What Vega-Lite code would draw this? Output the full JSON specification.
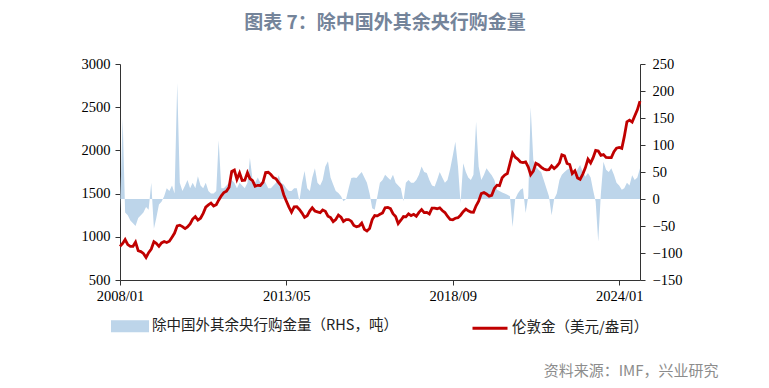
{
  "$schema": "https://vega.github.io/schema/vega-lite/v6.json",
  "autosize": "none",
  "width": 520,
  "height": 216,
  "padding": {"left": 120, "top": 64, "right": 129, "bottom": 108},
  "background": "white",
  "title": {"text": "图表 7：除中国外其余央行购金量", "font": "Noto Sans CJK SC", "fontSize": 19, "fontWeight": "bold", "color": "#74849a", "anchor": "middle", "offset": 23, "dx": 5},
  "config": {
    "view": {"stroke": null},
    "axis": {"grid": false, "domainColor": "#333", "tickColor": "#333", "labelFont": "Liberation Serif", "labelFontSize": 14.5, "labelColor": "#000", "tickSize": 5, "domainWidth": 1, "tickWidth": 1},
    "legend": {
      "orient": "none", "legendX": -9, "legendY": 243, "direction": "horizontal",
      "labelFont": "Noto Sans CJK SC", "labelFontSize": 14.5, "labelColor": "#222", "labelLimit": 400,
      "symbolSize": 1225, "labelOffset": 3, "columnPadding": 68, "symbolStrokeWidth": 3
    }
  },
  "data": {"values": [
{"date":"2008-01-01","cb":-20,"gold":889},{"date":"2008-02-01","cb":150,"gold":923},{"date":"2008-03-01","cb":-25,"gold":968},{"date":"2008-04-01","cb":-30,"gold":909},{"date":"2008-05-01","cb":-40,"gold":889},{"date":"2008-06-01","cb":-45,"gold":890},{"date":"2008-07-01","cb":-50,"gold":939},{"date":"2008-08-01","cb":-35,"gold":839},{"date":"2008-09-01","cb":-30,"gold":829},{"date":"2008-10-01","cb":-25,"gold":807},{"date":"2008-11-01","cb":-15,"gold":761},{"date":"2008-12-01","cb":-20,"gold":816},
{"date":"2009-01-01","cb":30,"gold":858},{"date":"2009-02-01","cb":-55,"gold":943},{"date":"2009-03-01","cb":-35,"gold":925},{"date":"2009-04-01","cb":-10,"gold":890},{"date":"2009-05-01","cb":-5,"gold":929},{"date":"2009-06-01","cb":5,"gold":946},{"date":"2009-07-01","cb":20,"gold":934},{"date":"2009-08-01","cb":15,"gold":949},{"date":"2009-09-01","cb":25,"gold":996},{"date":"2009-10-01","cb":10,"gold":1043},{"date":"2009-11-01","cb":215,"gold":1127},{"date":"2009-12-01","cb":30,"gold":1135},
{"date":"2010-01-01","cb":15,"gold":1118},{"date":"2010-02-01","cb":25,"gold":1095},{"date":"2010-03-01","cb":35,"gold":1114},{"date":"2010-04-01","cb":20,"gold":1149},{"date":"2010-05-01","cb":30,"gold":1205},{"date":"2010-06-01","cb":20,"gold":1233},{"date":"2010-07-01","cb":42,"gold":1193},{"date":"2010-08-01","cb":25,"gold":1215},{"date":"2010-09-01","cb":20,"gold":1271},{"date":"2010-10-01","cb":30,"gold":1343},{"date":"2010-11-01","cb":15,"gold":1370},{"date":"2010-12-01","cb":10,"gold":1391},
{"date":"2011-01-01","cb":10,"gold":1356},{"date":"2011-02-01","cb":15,"gold":1372},{"date":"2011-03-01","cb":109,"gold":1424},{"date":"2011-04-01","cb":20,"gold":1474},{"date":"2011-05-01","cb":20,"gold":1511},{"date":"2011-06-01","cb":25,"gold":1529},{"date":"2011-07-01","cb":30,"gold":1573},{"date":"2011-08-01","cb":35,"gold":1756},{"date":"2011-09-01","cb":30,"gold":1772},{"date":"2011-10-01","cb":20,"gold":1665},{"date":"2011-11-01","cb":30,"gold":1739},{"date":"2011-12-01","cb":25,"gold":1652},
{"date":"2012-01-01","cb":20,"gold":1656},{"date":"2012-02-01","cb":30,"gold":1743},{"date":"2012-03-01","cb":76,"gold":1674},{"date":"2012-04-01","cb":35,"gold":1651},{"date":"2012-05-01","cb":30,"gold":1585},{"date":"2012-06-01","cb":40,"gold":1596},{"date":"2012-07-01","cb":30,"gold":1594},{"date":"2012-08-01","cb":35,"gold":1630},{"date":"2012-09-01","cb":30,"gold":1744},{"date":"2012-10-01","cb":20,"gold":1747},{"date":"2012-11-01","cb":20,"gold":1721},{"date":"2012-12-01","cb":25,"gold":1685},
{"date":"2013-01-01","cb":30,"gold":1671},{"date":"2013-02-01","cb":44,"gold":1627},{"date":"2013-03-01","cb":30,"gold":1593},{"date":"2013-04-01","cb":27,"gold":1487},{"date":"2013-05-01","cb":20,"gold":1414},{"date":"2013-06-01","cb":15,"gold":1343},{"date":"2013-07-01","cb":15,"gold":1286},{"date":"2013-08-01","cb":20,"gold":1347},{"date":"2013-09-01","cb":20,"gold":1348},{"date":"2013-10-01","cb":-4,"gold":1316},{"date":"2013-11-01","cb":30,"gold":1275},{"date":"2013-12-01","cb":52,"gold":1225},
{"date":"2014-01-01","cb":20,"gold":1244},{"date":"2014-02-01","cb":15,"gold":1300},{"date":"2014-03-01","cb":40,"gold":1336},{"date":"2014-04-01","cb":57,"gold":1299},{"date":"2014-05-01","cb":30,"gold":1288},{"date":"2014-06-01","cb":25,"gold":1279},{"date":"2014-07-01","cb":35,"gold":1311},{"date":"2014-08-01","cb":60,"gold":1296},{"date":"2014-09-01","cb":70,"gold":1239},{"date":"2014-10-01","cb":40,"gold":1222},{"date":"2014-11-01","cb":27,"gold":1176},{"date":"2014-12-01","cb":15,"gold":1200},
{"date":"2015-01-01","cb":11,"gold":1251},{"date":"2015-02-01","cb":5,"gold":1227},{"date":"2015-03-01","cb":-4,"gold":1178},{"date":"2015-04-01","cb":0,"gold":1198},{"date":"2015-05-01","cb":20,"gold":1199},{"date":"2015-06-01","cb":39,"gold":1181},{"date":"2015-07-01","cb":40,"gold":1131},{"date":"2015-08-01","cb":39,"gold":1117},{"date":"2015-09-01","cb":45,"gold":1125},{"date":"2015-10-01","cb":50,"gold":1159},{"date":"2015-11-01","cb":40,"gold":1086},{"date":"2015-12-01","cb":30,"gold":1068},
{"date":"2016-01-01","cb":10,"gold":1097},{"date":"2016-02-01","cb":-17,"gold":1200},{"date":"2016-03-01","cb":-20,"gold":1246},{"date":"2016-04-01","cb":5,"gold":1242},{"date":"2016-05-01","cb":30,"gold":1260},{"date":"2016-06-01","cb":35,"gold":1276},{"date":"2016-07-01","cb":45,"gold":1337},{"date":"2016-08-01","cb":40,"gold":1341},{"date":"2016-09-01","cb":35,"gold":1326},{"date":"2016-10-01","cb":45,"gold":1267},{"date":"2016-11-01","cb":30,"gold":1236},{"date":"2016-12-01","cb":25,"gold":1152},
{"date":"2017-01-01","cb":20,"gold":1192},{"date":"2017-02-01","cb":-4,"gold":1234},{"date":"2017-03-01","cb":30,"gold":1231},{"date":"2017-04-01","cb":35,"gold":1266},{"date":"2017-05-01","cb":30,"gold":1246},{"date":"2017-06-01","cb":30,"gold":1260},{"date":"2017-07-01","cb":35,"gold":1237},{"date":"2017-08-01","cb":45,"gold":1283},{"date":"2017-09-01","cb":60,"gold":1315},{"date":"2017-10-01","cb":50,"gold":1280},{"date":"2017-11-01","cb":48,"gold":1283},{"date":"2017-12-01","cb":35,"gold":1265},
{"date":"2018-01-01","cb":25,"gold":1331},{"date":"2018-02-01","cb":23,"gold":1331},{"date":"2018-03-01","cb":35,"gold":1325},{"date":"2018-04-01","cb":50,"gold":1335},{"date":"2018-05-01","cb":40,"gold":1304},{"date":"2018-06-01","cb":30,"gold":1281},{"date":"2018-07-01","cb":35,"gold":1238},{"date":"2018-08-01","cb":55,"gold":1202},{"date":"2018-09-01","cb":80,"gold":1198},{"date":"2018-10-01","cb":106,"gold":1215},{"date":"2018-11-01","cb":60,"gold":1221},{"date":"2018-12-01","cb":-8,"gold":1250},
{"date":"2019-01-01","cb":66,"gold":1291},{"date":"2019-02-01","cb":50,"gold":1320},{"date":"2019-03-01","cb":40,"gold":1301},{"date":"2019-04-01","cb":35,"gold":1286},{"date":"2019-05-01","cb":45,"gold":1284},{"date":"2019-06-01","cb":143,"gold":1359},{"date":"2019-07-01","cb":60,"gold":1413},{"date":"2019-08-01","cb":35,"gold":1500},{"date":"2019-09-01","cb":45,"gold":1511},{"date":"2019-10-01","cb":57,"gold":1495},{"date":"2019-11-01","cb":50,"gold":1471},{"date":"2019-12-01","cb":44,"gold":1480},
{"date":"2020-01-01","cb":35,"gold":1560},{"date":"2020-02-01","cb":17,"gold":1597},{"date":"2020-03-01","cb":15,"gold":1591},{"date":"2020-04-01","cb":12,"gold":1683},{"date":"2020-05-01","cb":10,"gold":1715},{"date":"2020-06-01","cb":8,"gold":1732},{"date":"2020-07-01","cb":5,"gold":1846},{"date":"2020-08-01","cb":-52,"gold":1968},{"date":"2020-09-01","cb":0,"gold":1921},{"date":"2020-10-01","cb":10,"gold":1900},{"date":"2020-11-01","cb":17,"gold":1866},{"date":"2020-12-01","cb":20,"gold":1858},
{"date":"2021-01-01","cb":-26,"gold":1867},{"date":"2021-02-01","cb":5,"gold":1808},{"date":"2021-03-01","cb":170,"gold":1718},{"date":"2021-04-01","cb":72,"gold":1760},{"date":"2021-05-01","cb":60,"gold":1850},{"date":"2021-06-01","cb":54,"gold":1834},{"date":"2021-07-01","cb":50,"gold":1807},{"date":"2021-08-01","cb":35,"gold":1785},{"date":"2021-09-01","cb":20,"gold":1775},{"date":"2021-10-01","cb":5,"gold":1777},{"date":"2021-11-01","cb":-30,"gold":1821},{"date":"2021-12-01","cb":0,"gold":1790},
{"date":"2022-01-01","cb":10,"gold":1817},{"date":"2022-02-01","cb":35,"gold":1856},{"date":"2022-03-01","cb":45,"gold":1948},{"date":"2022-04-01","cb":50,"gold":1937},{"date":"2022-05-01","cb":54,"gold":1849},{"date":"2022-06-01","cb":57,"gold":1837},{"date":"2022-07-01","cb":50,"gold":1732},{"date":"2022-08-01","cb":45,"gold":1764},{"date":"2022-09-01","cb":55,"gold":1681},{"date":"2022-10-01","cb":63,"gold":1665},{"date":"2022-11-01","cb":50,"gold":1726},{"date":"2022-12-01","cb":41,"gold":1798},
{"date":"2023-01-01","cb":48,"gold":1898},{"date":"2023-02-01","cb":40,"gold":1855},{"date":"2023-03-01","cb":17,"gold":1913},{"date":"2023-04-01","cb":-5,"gold":1999},{"date":"2023-05-01","cb":-79,"gold":1992},{"date":"2023-06-01","cb":10,"gold":1943},{"date":"2023-07-01","cb":69,"gold":1951},{"date":"2023-08-01","cb":54,"gold":1918},{"date":"2023-09-01","cb":50,"gold":1916},{"date":"2023-10-01","cb":57,"gold":1916},{"date":"2023-11-01","cb":45,"gold":1985},{"date":"2023-12-01","cb":30,"gold":2026},
{"date":"2024-01-01","cb":25,"gold":2034},{"date":"2024-02-01","cb":17,"gold":2023},{"date":"2024-03-01","cb":20,"gold":2159},{"date":"2024-04-01","cb":30,"gold":2331},{"date":"2024-05-01","cb":25,"gold":2350},{"date":"2024-06-01","cb":44,"gold":2327},{"date":"2024-07-01","cb":35,"gold":2399},{"date":"2024-08-01","cb":40,"gold":2470},{"date":"2024-09-01","cb":57,"gold":2571}
  ]},
  "encoding": {
    "x": {
      "field": "date", "type": "temporal",
      "scale": {"type": "utc", "domain": [{"year": 2008, "month": 1, "date": 1, "utc": true}, {"year": 2024, "month": 9, "date": 1, "utc": true}]},
      "axis": {
        "values": [{"year": 2008, "month": 1, "date": 1, "utc": true}, {"year": 2013, "month": 5, "date": 1, "utc": true}, {"year": 2018, "month": 9, "date": 1, "utc": true}, {"year": 2024, "month": 1, "date": 1, "utc": true}],
        "format": "%Y/%m", "labelPadding": 4, "labelFlush": false, "labelOverlap": false,
        "title": "资料来源：IMF，兴业研究", "titleFont": "Noto Sans CJK SC", "titleFontSize": 15, "titleFontWeight": "normal", "titleColor": "#8c8c8c",
        "titleX": 598, "titleY": 90, "titleAlign": "right", "titleBaseline": "middle", "titleAnchor": null
      }
    }
  },
  "layer": [
    {
      "mark": {"type": "area", "opacity": 1},
      "encoding": {
        "y": {"field": "cb", "type": "quantitative", "scale": {"domain": [-150, 250], "nice": false, "zero": false},
              "axis": {"orient": "right", "values": [-150, -100, -50, 0, 50, 100, 150, 200, 250], "title": null, "labelPadding": 7}},
        "y2": {"datum": 0},
        "color": {
          "datum": "除中国外其余央行购金量（RHS，吨）", "type": "nominal",
          "scale": {"domain": ["除中国外其余央行购金量（RHS，吨）", "伦敦金（美元/盎司）"], "range": ["#bdd5ea", "#c00000"]},
          "legend": {
            "title": null,
            "encode": {"symbols": {"update": {
              "shape": {"signal": "datum.value == '伦敦金（美元/盎司）' ? 'M-1,0H1' : 'M-1,-0.26H1V0.26H-1Z'"},
              "fill": {"signal": "datum.value == '伦敦金（美元/盎司）' ? 'transparent' : '#bdd5ea'"},
              "stroke": {"signal": "datum.value == '伦敦金（美元/盎司）' ? '#c00000' : 'transparent'"},
              "strokeWidth": {"value": 3},
              "opacity": {"value": 1}
            }}}
          }
        }
      }
    },
    {
      "mark": {"type": "line", "strokeWidth": 2.8},
      "encoding": {
        "y": {"field": "gold", "type": "quantitative", "scale": {"domain": [500, 3000], "nice": false, "zero": false},
              "axis": {"orient": "left", "values": [500, 1000, 1500, 2000, 2500, 3000], "title": null, "labelPadding": 5, "format": "d"}},
        "color": {
          "datum": "伦敦金（美元/盎司）", "type": "nominal",
          "legend": {
            "title": null,
            "encode": {"symbols": {"update": {
              "shape": {"signal": "datum.value == '伦敦金（美元/盎司）' ? 'M-1,0H1' : 'M-1,-0.26H1V0.26H-1Z'"},
              "fill": {"signal": "datum.value == '伦敦金（美元/盎司）' ? 'transparent' : '#bdd5ea'"},
              "stroke": {"signal": "datum.value == '伦敦金（美元/盎司）' ? '#c00000' : 'transparent'"},
              "strokeWidth": {"value": 3},
              "opacity": {"value": 1}
            }}}
          }
        }
      }
    }
  ],
  "resolve": {"scale": {"y": "independent"}, "axis": {"y": "independent"}}
}
